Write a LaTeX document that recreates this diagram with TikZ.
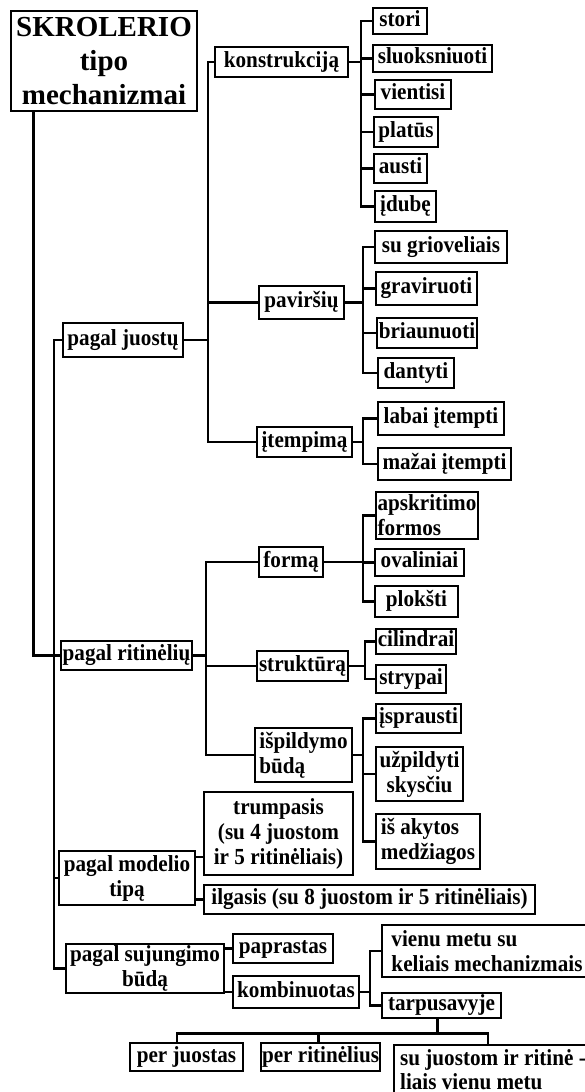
\documentclass[tikz,border=0pt]{standalone}
\usepackage{fontspec}
\setmainfont{Liberation Serif}[FakeStretch=0.92]
\newfontfamily\rootfont{Liberation Serif}
\newcommand\bx[7][]{\node[box,#1,minimum width={#5-#3},minimum height={#6-#4}] (#2) at ({(#3+#5)/2},{(#4+#6)/2}) {#7};}
\begin{document}
\begin{tikzpicture}[x=1pt,y=-1pt, line width=2.9pt, line cap=rect,
 box/.style={draw, rectangle, inner sep=0pt, font=\bfseries\fontsize{23}{25}\selectfont, text height=16pt, text depth=5.5pt},
 multi/.style={text height=, text depth=}]
\useasboundingbox (0,0) rectangle (585,1092);
% level 0 and 1
\bx[multi,font=\rootfont\bfseries\fontsize{29}{34}\selectfont,align=center]{root}{11}{11}{197}{111}{SKROLERIO\\tipo\\mechanizmai}
\bx{juo}{63}{323}{183}{357}{pagal juostų}
\bx{rit}{61}{641}{192}{670}{pagal ritinėlių}
\bx[multi,align=center]{mod}{59}{851}{195}{905}{pagal modelio\\tipą}
\bx[multi,align=center]{suj}{66}{944}{224}{993}{pagal sujungimo\\būdą}
% juostų
\bx{kon}{215}{47}{348}{77}{konstrukciją}
\bx{pav}{259}{286}{344}{319}{paviršių}
\bx{ite}{257}{427}{352}{457}{įtempimą}
\bx{sto}{373}{8}{427}{34}{stori}
\bx{slu}{373}{45}{492}{72}{sluoksniuoti}
\bx{vie}{375}{80}{451}{109}{vientisi}
\bx{pla}{374}{117}{438}{147}{platūs}
\bx{aus}{374}{154}{427}{183}{austi}
\bx{idu}{375}{191}{436}{222}{įdubę}
\bx{sug}{375}{231}{507}{263}{su grioveliais}
\bx{gra}{376}{272}{477}{305}{graviruoti}
\bx{bri}{377}{318}{477}{348}{briaunuoti}
\bx{dan}{378}{358}{454}{388}{dantyti}
\bx{lab}{378}{402}{504}{435}{labai įtempti}
\bx{maz}{378}{448}{511}{480}{mažai įtempti}
% ritinėlių
\bx{for}{259}{547}{323}{577}{formą}
\bx{str}{257}{651}{348}{681}{struktūrą}
\bx[multi,align=left]{isp}{255}{728}{352}{782}{išpildymo\\būdą}
\bx[multi,align=left]{aps}{376}{492}{478}{539}{apskritimo\\formos}
\bx{ova}{375}{549}{464}{576}{ovaliniai}
\bx{plo}{375}{586}{458}{617}{plokšti}
\bx{cil}{376}{629}{456}{654}{cilindrai}
\bx{stp}{376}{665}{446}{693}{strypai}
\bx{ispr}{376}{704}{461}{733}{įsprausti}
\bx[multi,align=center]{uzp}{376}{747}{463}{801}{užpildyti\\skysčiu}
\bx[multi,align=left]{ak}{376}{814}{480}{869}{iš akytos\\medžiagos}
% modelio
\bx[multi,align=center]{tru}{204}{792}{353}{875}{trumpasis\\(su 4 juostom\\ir 5 ritinėliais)}
\bx{ilg}{204}{885}{535}{914}{ilgasis (su 8 juostom ir 5 ritinėliais)}
% sujungimo
\bx{pap}{233}{934}{333}{963}{paprastas}
\bx{kom}{233}{976}{359}{1008}{kombinuotas}
\bx[multi,align=left]{vmt}{382}{925}{592}{977}{vienu metu su\\keliais mechanizmais}
\bx{tar}{382}{993}{501}{1018}{tarpusavyje}
\bx{pj}{130}{1043}{243}{1071}{per juostas}
\bx{pr}{261}{1043}{380}{1071}{per ritinėlius}
\bx[multi,align=left,font=\bfseries\fontsize{23}{24}\selectfont]{sjr}{394}{1045}{592}{1095}{su juostom ir ritinė -\\liais vienu metu}
% buses
\coordinate (lb) at (54,0);
\coordinate (b1) at (208,0);
\coordinate (b2) at (361,0);
\coordinate (b3) at (363,0);
\coordinate (b4) at (206,0);
\coordinate (b5) at (365,0);
\coordinate (kb) at (370,0);
% root
\draw ([xshift=24pt]root.south west) |- (rit.west);
\draw (juo.west) -- (juo.west -| lb) -- (suj.west -| lb) -- (suj.west);
\draw (mod.west) -- (mod.west -| lb);
% juostų
\draw (kon.west) -- (kon.west -| b1) -- (ite.west -| b1) -- (ite.west);
\draw (pav.west) -- (pav.west -| b1);
\draw (juo.east) -- (juo.east -| b1);
\draw (sto.west) -- (sto.west -| b2) -- (idu.west -| b2) -- (idu.west);
\foreach \n in {slu,vie,pla,aus} \draw (\n.west) -- (\n.west -| b2);
\draw (kon.east) -- (kon.east -| b2);
\draw (sug.west) -- (sug.west -| b3) -- (dan.west -| b3) -- (dan.west);
\foreach \n in {gra,bri} \draw (\n.west) -- (\n.west -| b3);
\draw (pav.east) -- (pav.east -| b3);
\draw (lab.west) -- (lab.west -| b3) -- (maz.west -| b3) -- (maz.west);
\draw (ite.east) -- (ite.east -| b3);
% ritinėlių
\draw (for.west) -- (for.west -| b4) -- (isp.west -| b4) -- (isp.west);
\draw (str.west) -- (str.west -| b4);
\draw (rit.east) -- (rit.east -| b4);
\draw (aps.west) -- (aps.west -| b3) -- (plo.west -| b3) -- (plo.west);
\draw (ova.west) -- (ova.west -| b3);
\draw (for.east) -- (for.east -| b3);
\draw (cil.west) -- (cil.west -| b5) -- (stp.west -| b5) -- (stp.west);
\draw (str.east) -- (str.east -| b5);
\draw (ispr.west) -- (ispr.west -| b3) -- (ak.west -| b3) -- (ak.west);
\draw (uzp.west) -- (uzp.west -| b3);
\draw (isp.east) -- (isp.east -| b3);
% modelio
\draw ([yshift=21pt]mod.east) -- ([yshift=21pt]mod.east -| tru.west);
\draw (ilg.west) -- (ilg.west -| mod.east);
% sujungimo
\draw (pap.west) -- (pap.west -| suj.east);
\draw (kom.west) -- (kom.west -| suj.east);
\draw (vmt.west) -- (vmt.west -| kb) -- (tar.west -| kb) -- (tar.west);
\draw (kom.east) -- (kom.east -| kb);
\draw ([xshift=-4pt]tar.south) -- ++(0,14) coordinate (hb);
\draw ([xshift=-9.5pt]pj.north) |- (hb);
\draw ([xshift=-5pt]sjr.north) |- (hb);
\draw ([xshift=-2pt]pr.north) -- ([xshift=-2pt]pr.north |- hb);
\end{tikzpicture}
\end{document}
